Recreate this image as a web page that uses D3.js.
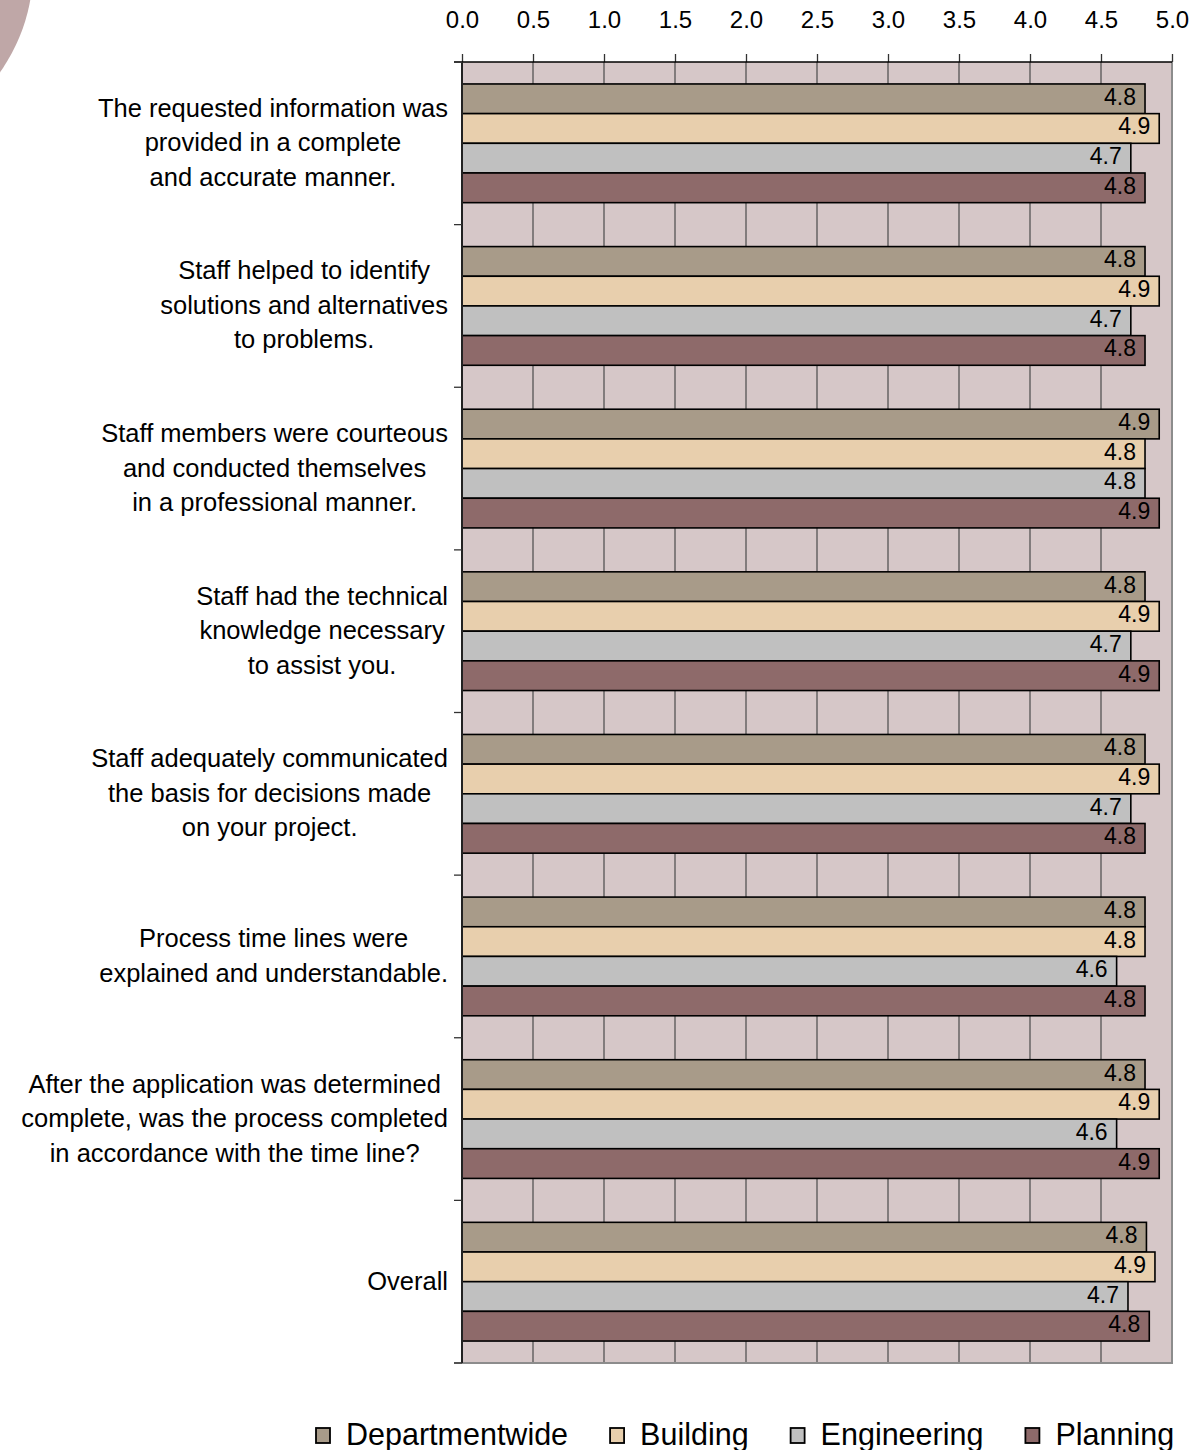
<!DOCTYPE html>
<html>
<head>
<meta charset="utf-8">
<title>Customer survey ratings</title>
<script src="https://d3js.org/d3.v7.min.js"></script>
<style>
  html, body { margin: 0; padding: 0; background: #fff; }
  text { font-family: "Liberation Sans", Arial, sans-serif; fill: #000; }
  .tick text { font-size: 24px; }
  .catLabel { font-size: 25.5px; }
  .valueText { font-size: 23px; }
  .legendText { font-size: 30.5px; }
</style>
</head>
<body>
<script>
// ---- data ----
var categories = [
  ["The requested information was", "provided in a complete", "and accurate manner."],
  ["Staff helped to identify", "solutions and alternatives", "to problems."],
  ["Staff members were courteous", "and conducted themselves", "in a professional manner."],
  ["Staff had the technical", "knowledge necessary", "to assist you."],
  ["Staff adequately communicated", "the basis for decisions made", "on your project."],
  ["Process time lines were", "explained and understandable."],
  ["After the application was determined", "complete, was the process completed", "in accordance with the time line?"],
  ["Overall"]
];
var seriesNames = ["Departmentwide", "Building", "Engineering", "Planning"];
var departmentwide = [4.81, 4.81, 4.91, 4.81, 4.81, 4.81, 4.81, 4.82];
var building       = [4.91, 4.91, 4.81, 4.91, 4.91, 4.81, 4.91, 4.88];
var engineering    = [4.71, 4.71, 4.81, 4.71, 4.71, 4.61, 4.61, 4.69];
var planning       = [4.81, 4.81, 4.91, 4.91, 4.81, 4.81, 4.91, 4.84];
var xTicks = [0, 0.5, 1, 1.5, 2, 2.5, 3, 3.5, 4, 4.5, 5];
var colors = ["#a89b89", "#e8cfad", "#c0c0c0", "#8e6a6a"];

var allSeries = [departmentwide, building, engineering, planning];

var W = 1199, H = 1450;
var plot = {left: 462, right: 1172, top: 62, bottom: 1363};

var svg = d3.select("body").append("svg").attr("width", W).attr("height", H);

// decorative arc in the corner
svg.append("circle")
  .attr("cx", -145).attr("cy", -31).attr("r", 178)
  .style("fill", "#bfa7a7");

var x = d3.scaleLinear().domain([0, 5]).range([plot.left, plot.right]);
var y0 = d3.scaleBand().domain(d3.range(categories.length)).range([plot.top, plot.bottom]);
var y1 = d3.scaleBand().domain(d3.range(seriesNames.length)).range([0, y0.bandwidth()])
  .paddingInner(0).paddingOuter(0.74);

// plot background
svg.append("rect")
  .attr("x", plot.left).attr("y", plot.top)
  .attr("width", plot.right - plot.left).attr("height", plot.bottom - plot.top)
  .style("fill", "#d6c7c8");

// vertical gridlines
svg.append("g").selectAll("line")
  .data(xTicks.slice(1, -1)).enter()
  .append("line")
  .attr("x1", function(d) { return x(d); }).attr("x2", function(d) { return x(d); })
  .attr("y1", plot.top).attr("y2", plot.bottom)
  .style("stroke", "#4a4a4a").style("stroke-width", 1.2);

// right + bottom border (gray)
svg.append("path")
  .attr("d", "M" + x(5) + "," + plot.top + "V" + plot.bottom + "H" + (plot.left - 8))
  .style("fill", "none").style("stroke", "#8c8c8c").style("stroke-width", 2);

// bars
var groups = svg.append("g").selectAll("g")
  .data(categories).enter()
  .append("g")
  .attr("transform", function(d, i) { return "translate(0," + y0(i) + ")"; });

groups.each(function(c, ci) {
  var g = d3.select(this);
  allSeries.forEach(function(vals, si) {
    g.append("rect")
      .attr("x", x(0))
      .attr("y", y1(si))
      .attr("width", x(vals[ci]) - x(0))
      .attr("height", y1.bandwidth())
      .style("fill", colors[si])
      .style("stroke", "#000").style("stroke-width", 1.6);
    g.append("text")
      .attr("class", "valueText")
      .attr("text-anchor", "end")
      .attr("x", x(vals[ci]) - 9)
      .attr("y", y1(si) + y1.bandwidth() / 2 + 6)
      .text(vals[ci].toFixed(1));
  });
});

// top axis
var xAxis = d3.axisTop(x).tickValues(xTicks).tickSize(8).tickPadding(26)
  .tickFormat(d3.format(".1f"));
var ax = svg.append("g").attr("transform", "translate(0," + plot.top + ")").call(xAxis);
ax.select(".domain").remove();
ax.selectAll(".tick line").style("stroke", "#333").style("stroke-width", 1.3);
ax.selectAll(".tick text").attr("font-family", null).attr("font-size", null);
ax.append("line")
  .attr("x1", plot.left - 8).attr("x2", plot.right).attr("y1", 0).attr("y2", 0)
  .style("stroke", "#000").style("stroke-width", 1.3);

// left axis line and category ticks
svg.append("line")
  .attr("x1", plot.left).attr("x2", plot.left).attr("y1", plot.top).attr("y2", plot.bottom)
  .style("stroke", "#222").style("stroke-width", 2);
svg.append("g").selectAll("line")
  .data(d3.range(categories.length + 1)).enter()
  .append("line")
  .attr("x1", plot.left - 8).attr("x2", plot.left)
  .attr("y1", function(i) { return plot.top + i * y0.step(); })
  .attr("y2", function(i) { return plot.top + i * y0.step(); })
  .style("stroke", "#333").style("stroke-width", 1.3);

// category labels: block right-aligned, lines centred in the block
var lineH = 34.5, labelRight = 448;
groups.each(function(lines, ci) {
  var g = d3.select(this);
  var t = g.append("text").attr("class", "catLabel").attr("text-anchor", "middle");
  var spans = t.selectAll("tspan").data(lines).enter().append("tspan")
    .attr("y", function(d, i) { return y0.bandwidth() / 2 + 8 + (i - (lines.length - 1) / 2) * lineH; })
    .text(function(d) { return d; });
  var maxW = 0;
  spans.each(function() { maxW = Math.max(maxW, this.getComputedTextLength()); });
  spans.attr("x", labelRight - maxW / 2);
});

// legend
var legend = svg.append("g").attr("transform", "translate(316,1428)");
var lx = 0;
seriesNames.forEach(function(name, i) {
  var item = legend.append("g").attr("transform", "translate(" + lx + ",0)");
  item.append("rect").attr("width", 14).attr("height", 15)
    .style("fill", colors[i]).style("stroke", "#000").style("stroke-width", 1.8);
  var t = item.append("text").attr("class", "legendText")
    .attr("x", 30).attr("y", 17).text(name);
  lx += 30 + t.node().getComputedTextLength() + 42;
});
</script>
</body>
</html>
